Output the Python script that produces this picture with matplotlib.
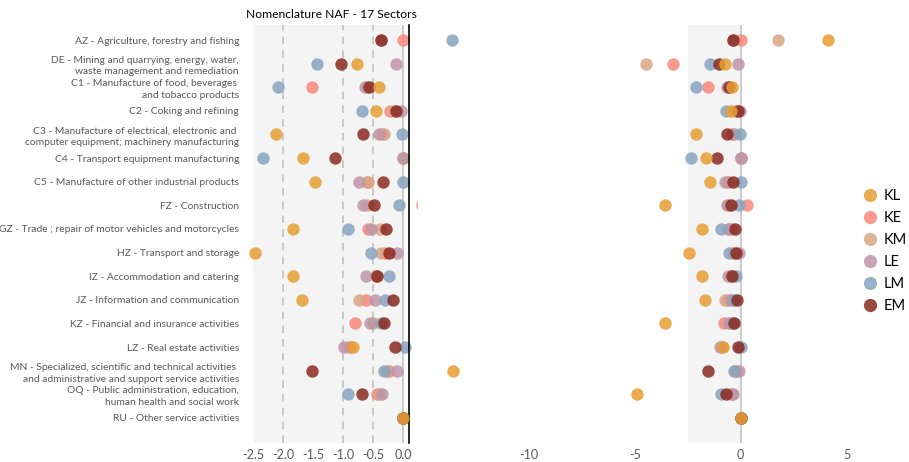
import matplotlib
matplotlib.use("Agg")
import matplotlib.pyplot as plt
from matplotlib.lines import Line2D
from matplotlib.patches import Rectangle

plt.rcParams['font.family'] = ['Lato', 'DejaVu Sans']
plt.rcParams['axes.unicode_minus'] = False

sectors = [
    "AZ - Agriculture, forestry and fishing",
    "DE - Mining and quarrying, energy, water,\nwaste management and remediation",
    "C1 - Manufacture of food, beverages \nand tobacco products",
    "C2 - Coking and refining",
    "C3 - Manufacture of electrical, electronic and \ncomputer equipment; machinery manufacturing",
    "C4 - Transport equipment manufacturing",
    "C5 - Manufacture of other industrial products",
    "FZ - Construction",
    "GZ - Trade ; repair of motor vehicles and motorcycles",
    "HZ - Transport and storage",
    "IZ - Accommodation and catering",
    "JZ - Information and communication",
    "KZ - Financial and insurance activities",
    "LZ - Real estate activities",
    "MN - Specialized, scientific and technical activities \nand administrative and support service activities",
    "OQ - Public administration, education,\nhuman health and social work",
    "RU - Other service activities",
]

series_names = ["KL", "KE", "KM", "LE", "LM", "EM"]
KL = [4.13, -0.76, -0.40, -0.45, -2.11, -1.66, -1.47, -3.55, -1.84, -2.46, -1.84, -1.68, -3.57, -0.84, -13.55, -4.90, 0.0]
KE = [0.0, -3.18, -1.52, -0.21, -0.35, 0.0, -0.60, 0.31, -0.58, -0.30, -0.45, -0.62, -0.80, -0.90, -0.24, -0.44, 0.0]
KM = [1.74, -4.47, -0.60, -0.15, -0.32, 0.0, -0.58, -0.60, -0.39, -0.37, -0.45, -0.74, -0.50, -0.88, -0.26, -0.40, 0.0]
LE = [-0.36, -0.12, -0.64, -0.03, -0.40, 0.0, -0.74, -0.66, -0.54, -0.10, -0.62, -0.46, -0.55, -0.98, -0.10, -0.35, 0.0]
LM = [-13.60, -1.44, -2.09, -0.69, -0.02, -2.34, 0.0, -0.07, -0.92, -0.54, -0.24, -0.30, -0.36, 0.03, -0.31, -0.91, 0.0]
EM = [-0.36, -1.04, -0.57, -0.12, -0.66, -1.14, -0.34, -0.48, -0.29, -0.24, -0.43, -0.16, -0.32, -0.13, -1.52, -0.69, 0.0]
series_values = [KL, KE, KM, LE, LM, EM]
colors = ["#E89E33", "#F8877B", "#D9A684", "#BE96AA", "#87A4BF", "#8A2A20"]
draw_z = [9, 3, 4, 5, 6, 7]  # KL drawn on top

left_ticks = [-2.5, -2.0, -1.5, -1.0, -0.5, 0.0]
right_ticks = [-10, -5, 0, 5]

W, H = 909, 462
fig = plt.figure(figsize=(W / 100, H / 100), dpi=100)

def fx(px):
    return px / W

def fy(py):
    return 1 - py / H

ax_r = fig.add_axes([fx(417), fy(443), fx(862) - fx(417), fy(25) - fy(443)])
ax_l = fig.add_axes([fx(253), fy(443), fx(409) - fx(253), fy(25) - fy(443)])
ax_l.patch.set_alpha(0)
ax_r.patch.set_alpha(0)

ypos = list(range(len(sectors)))
gray_txt = "#595959"
msize = 80
alpha = 0.85

for ax in (ax_l, ax_r):
    ax.axvspan(-2.5, 0, color="#f4f4f4", zorder=0, lw=0)
    ax.axvline(0, color="#c4c4c4", lw=1.2, zorder=1)
    ax.set_ylim(17.06, -0.635)
    for s in ax.spines.values():
        s.set_visible(False)
    ax.tick_params(axis='both', length=0, colors=gray_txt, labelsize=9)

for xv in [-2.0, -1.0, -0.5]:
    ax_l.axvline(xv, color="#bdbdbd", lw=1.1, ls=(0, (5, 4)), zorder=1)

lw_px = 409 - 253
clip_rect = Rectangle((-8 / lw_px, 0), (417 - 245) / lw_px, 1, transform=ax_l.transAxes,
                      fill=False, lw=0)
ax_l.add_patch(clip_rect)

for name, vals, c, z in zip(series_names, series_values, colors, draw_z):
    sc = ax_l.scatter(vals, ypos, s=msize, color=c, alpha=alpha, lw=0, zorder=z, clip_on=True)
    sc.set_clip_path(clip_rect)
    ax_r.scatter(vals, ypos, s=msize, color=c, alpha=alpha, lw=0, zorder=z)

ax_l.set_xlim(-2.5, 0.1)
ax_l.spines['right'].set_visible(True)
ax_l.spines['right'].set_color('black')
ax_l.spines['right'].set_linewidth(1.2)
ax_l.spines['right'].set_zorder(8)
ax_l.set_xticks(left_ticks)
ax_l.set_xticklabels([f"{t:.1f}" for t in left_ticks])
ax_l.set_yticks(ypos)
ax_l.set_yticklabels(sectors, fontsize=7.4, color=gray_txt, linespacing=1.4)
ax_l.tick_params(axis='y', pad=10)
ax_l.tick_params(axis='x', pad=4)
ax_l.set_title("Nomenclature NAF - 17 Sectors", fontsize=8.7, color="black", pad=5)

ax_r.set_xlim((417 - 740.7) / 21.2, (862 - 740.7) / 21.2)
ax_r.set_xticks(right_ticks)
ax_r.set_xticklabels([str(t) for t in right_ticks])
ax_r.set_yticks([])
ax_r.tick_params(axis='x', pad=4)

handles = [Line2D([0], [0], marker='o', ls='', color=c, alpha=alpha, markersize=9.5, markeredgewidth=0)
           for c in colors]
fig.legend(handles, series_names, loc='upper left', bbox_to_anchor=(fx(857), fy(183)),
           frameon=False, fontsize=10.5, handletextpad=0.4, labelspacing=0.55,
           handlelength=1.0, borderaxespad=0)

fig.savefig("out.png", dpi=100)
